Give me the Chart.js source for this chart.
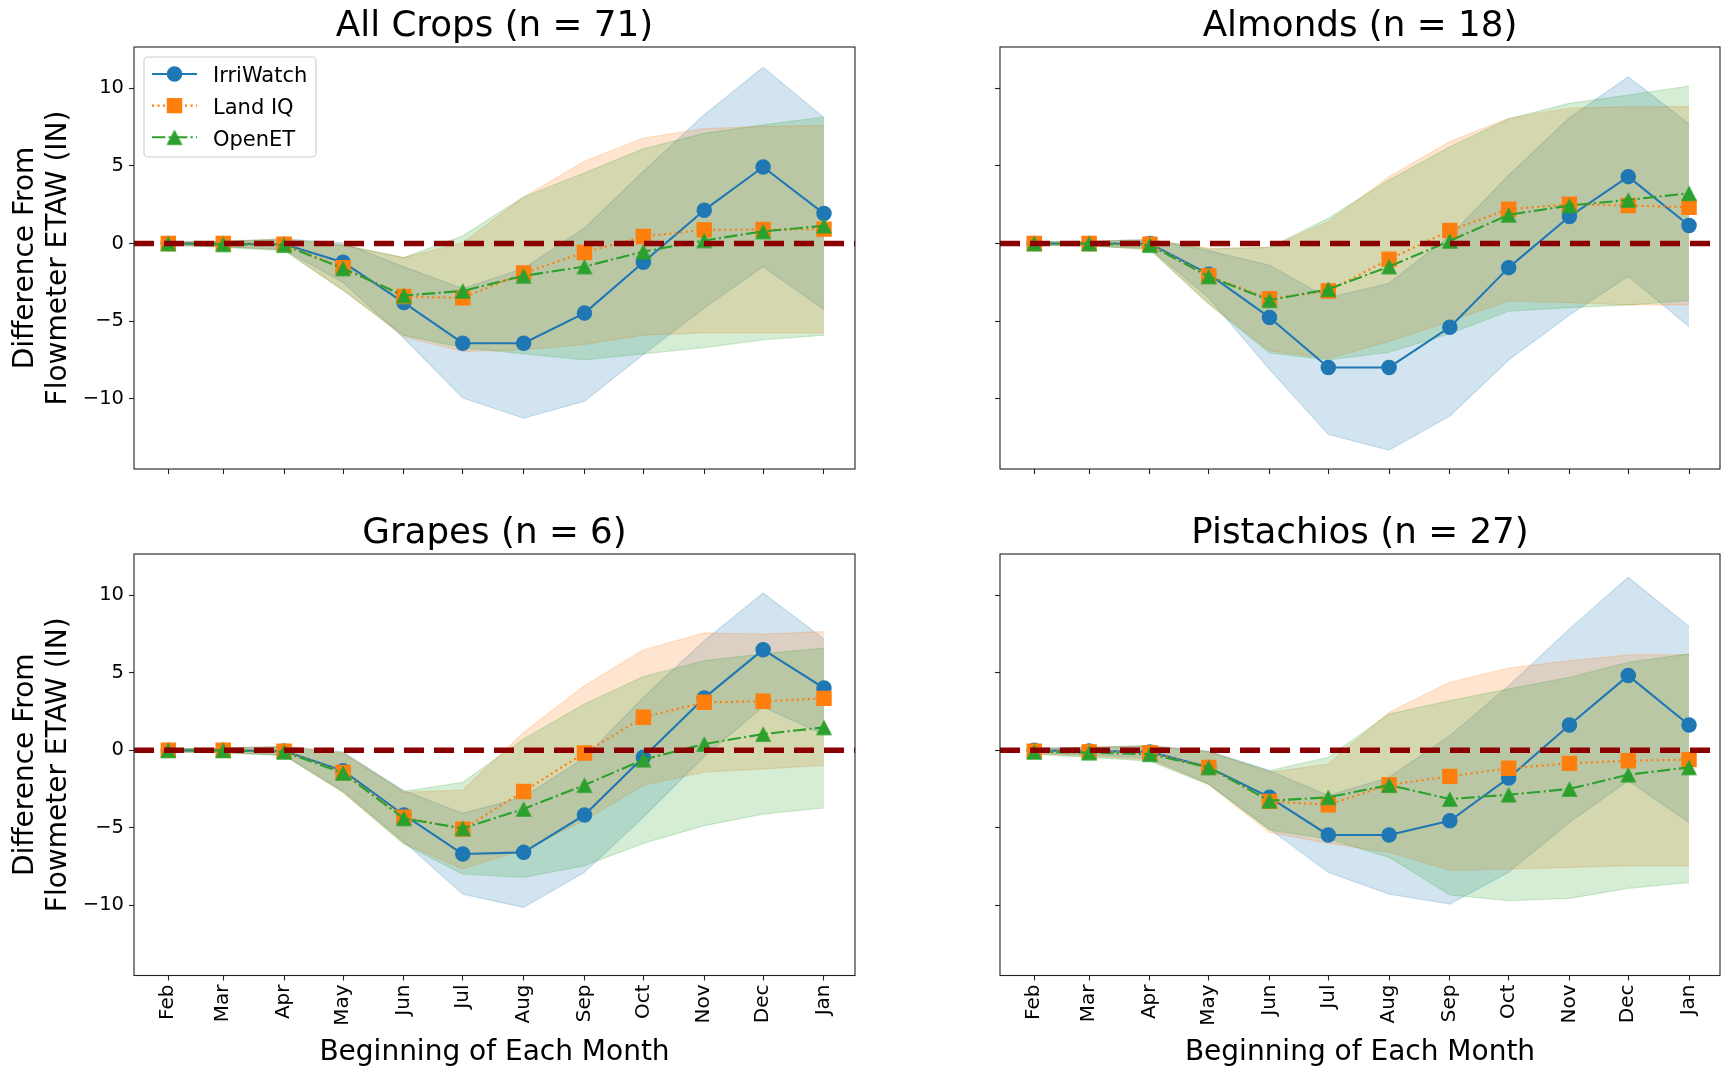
<!DOCTYPE html>
<html><head><meta charset="utf-8">
<script src="https://cdn.jsdelivr.net/npm/chart.js@4.4.0/dist/chart.umd.min.js"></script>
<style>
html,body{margin:0;padding:0;background:#fff;}
#wrap{position:relative;width:1722px;height:1068px;overflow:hidden;background:#fff;}
canvas{position:absolute;}
</style></head><body>
<div id="wrap">
<canvas id="c0" width="867" height="505" style="left:0;top:0"></canvas>
<canvas id="c1" width="872" height="505" style="left:861px;top:0"></canvas>
<canvas id="c2" width="867" height="570" style="left:0;top:505px"></canvas>
<canvas id="c3" width="872" height="570" style="left:861px;top:505px"></canvas>
</div>
<script>
// ---------- categories / ticks ----------
const monthLabels = ['Feb','Mar','Apr','May','Jun','Jul','Aug','Sep','Oct','Nov','Dec','Jan'];
const monthStarts = ['2023-02-01','2023-03-01','2023-04-01','2023-05-01','2023-06-01','2023-07-01',
                     '2023-08-01','2023-09-01','2023-10-01','2023-11-01','2023-12-01','2024-01-01'];
const yTickValues = [-10, -5, 0, 5, 10];
const panelTitles = ['All Crops (n = 71)', 'Almonds (n = 18)', 'Grapes (n = 6)', 'Pistachios (n = 27)'];
const seriesNames = ['IrriWatch', 'Land IQ', 'OpenET'];

// ---------- All Crops ----------
const acIrriMean  = [0, 0, -0.05, -1.2, -3.8, -6.42, -6.42, -4.48, -1.2, 2.15, 4.93, 1.93];
const acIrriUpper = [0.1, 0.15, 0.3, 0.05, -1.5, -2.9, -1.6, 1.0, 4.65, 8.3, 11.35, 8.1];
const acIrriLower = [-0.1, -0.2, -0.4, -2.5, -6.1, -9.95, -11.25, -10.15, -7.15, -4.15, -1.5, -4.25];
const acLandMean  = [0, 0, -0.05, -1.55, -3.41, -3.5, -1.9, -0.57, 0.45, 0.88, 0.9, 0.93];
const acLandUpper = [0.1, 0.15, 0.3, -0.1, -0.9, 0.05, 3.0, 5.3, 6.8, 7.4, 7.55, 7.6];
const acLandLower = [-0.1, -0.2, -0.4, -3.0, -6.0, -6.95, -6.85, -6.5, -5.9, -5.75, -5.75, -5.75];
const acOpenMean  = [0, -0.05, -0.1, -1.6, -3.35, -3.05, -2.08, -1.48, -0.52, 0.2, 0.78, 1.15];
const acOpenUpper = [0.1, 0.15, 0.25, -0.1, -0.9, 0.5, 3.0, 4.55, 6.1, 7.1, 7.65, 8.15];
const acOpenLower = [-0.1, -0.25, -0.45, -3.0, -5.9, -6.7, -7.1, -7.5, -7.1, -6.7, -6.2, -5.9];

// ---------- Almonds ----------
const alIrriMean  = [0, 0, 0, -1.97, -4.76, -7.98, -7.98, -5.39, -1.55, 1.74, 4.31, 1.16];
const alIrriUpper = [0.1, 0.15, 0.25, -0.45, -1.4, -3.5, -2.55, 0.5, 4.4, 8.1, 10.75, 7.7];
const alIrriLower = [-0.1, -0.15, -0.3, -3.5, -8.1, -12.3, -13.3, -11.1, -7.5, -4.6, -2.1, -5.35];
const alLandMean  = [0, 0, -0.05, -2.08, -3.56, -3.05, -1.01, 0.84, 2.21, 2.53, 2.45, 2.34];
const alLandUpper = [0.1, 0.15, 0.25, -0.3, -0.25, 1.42, 4.3, 6.57, 8.07, 8.72, 8.82, 8.82];
const alLandLower = [-0.1, -0.15, -0.35, -3.85, -6.9, -7.4, -6.3, -5.0, -3.7, -3.8, -3.95, -3.95];
const alOpenMean  = [0, 0, -0.1, -2.12, -3.65, -2.94, -1.48, 0.17, 1.85, 2.45, 2.81, 3.24];
const alOpenUpper = [0.1, 0.15, 0.25, -0.35, -0.25, 1.63, 4.1, 6.24, 8.03, 9.03, 9.57, 10.15];
const alOpenLower = [-0.1, -0.15, -0.4, -3.9, -7.05, -7.5, -7.0, -5.8, -4.35, -4.13, -3.95, -3.67];

// ---------- Grapes ----------
const grIrriMean  = [0, 0, -0.05, -1.31, -4.17, -6.69, -6.58, -4.17, -0.45, 3.38, 6.49, 4.02];
const grIrriUpper = [0.1, 0.15, 0.25, -0.1, -2.6, -4.06, -3.0, -0.5, 3.42, 7.07, 10.15, 7.18];
const grIrriLower = [-0.1, -0.15, -0.3, -2.6, -5.9, -9.27, -10.13, -7.87, -4.32, -0.4, 2.8, 1.0];
const grLandMean  = [0, 0, -0.05, -1.42, -4.32, -5.08, -2.65, -0.17, 2.13, 3.1, 3.16, 3.35];
const grLandUpper = [0.1, 0.15, 0.25, -0.15, -2.71, -2.56, 1.15, 4.17, 6.49, 7.57, 7.5, 7.66];
const grLandLower = [-0.1, -0.15, -0.3, -2.7, -6.0, -7.66, -6.4, -4.52, -2.25, -1.4, -1.2, -0.98];
const grOpenMean  = [0, 0, -0.1, -1.46, -4.39, -5.03, -3.78, -2.24, -0.6, 0.41, 1.05, 1.48];
const grOpenUpper = [0.1, 0.15, 0.2, -0.2, -2.65, -2.06, 0.73, 2.99, 4.75, 5.78, 6.22, 6.6];
const grOpenLower = [-0.1, -0.15, -0.35, -2.7, -6.04, -7.98, -8.19, -7.44, -6.0, -4.86, -4.11, -3.72];

// ---------- Pistachios ----------
const piIrriMean  = [0, -0.05, -0.1, -1.1, -3.03, -5.46, -5.46, -4.54, -1.78, 1.63, 4.82, 1.63];
const piIrriUpper = [0.15, 0.2, 0.3, -0.05, -1.31, -2.92, -1.74, 0.95, 4.17, 7.83, 11.16, 7.98];
const piIrriLower = [-0.15, -0.3, -0.5, -2.15, -5.08, -7.87, -9.27, -9.91, -7.87, -4.65, -1.96, -4.65];
const piLandMean  = [-0.05, -0.1, -0.15, -1.1, -3.29, -3.51, -2.22, -1.68, -1.16, -0.84, -0.67, -0.6];
const piLandUpper = [0.1, 0.2, 0.3, -0.1, -1.42, -0.88, 2.45, 4.39, 5.31, 5.78, 6.15, 6.17];
const piLandLower = [-0.2, -0.4, -0.6, -2.2, -5.29, -6.0, -6.58, -7.72, -7.66, -7.55, -7.44, -7.44];
const piOpenMean  = [-0.1, -0.15, -0.25, -1.1, -3.25, -3.03, -2.24, -3.14, -2.86, -2.49, -1.57, -1.1];
const piOpenUpper = [0.1, 0.2, 0.25, -0.1, -1.31, -0.45, 2.34, 3.2, 3.96, 4.71, 5.68, 6.22];
const piOpenLower = [-0.25, -0.45, -0.7, -2.2, -5.14, -5.72, -6.9, -9.33, -9.7, -9.55, -8.9, -8.52];

// ---------- assembly ----------
const panels = [
  { title: panelTitles[0], series: [[acIrriMean, acIrriUpper, acIrriLower], [acLandMean, acLandUpper, acLandLower], [acOpenMean, acOpenUpper, acOpenLower]] },
  { title: panelTitles[1], series: [[alIrriMean, alIrriUpper, alIrriLower], [alLandMean, alLandUpper, alLandLower], [alOpenMean, alOpenUpper, alOpenLower]] },
  { title: panelTitles[2], series: [[grIrriMean, grIrriUpper, grIrriLower], [grLandMean, grLandUpper, grLandLower], [grOpenMean, grOpenUpper, grOpenLower]] },
  { title: panelTitles[3], series: [[piIrriMean, piIrriUpper, piIrriLower], [piLandMean, piLandUpper, piLandLower], [piOpenMean, piOpenUpper, piOpenLower]] }
];

const dayOffsets = monthStarts.map(s => (Date.parse(s) - Date.parse(monthStarts[0])) / 86400000);
const X_MIN = -17.47, X_MAX = 349.8;
const Y_MIN = -14.52, Y_MAX = 12.66;

Chart.defaults.font.family = "'DejaVu Sans', sans-serif";
Chart.defaults.color = '#000';

const lineColors = ['#1f77b4', '#ff7f0e', '#2ca02c'];
const fillColors = ['rgba(31,119,180,0.2)', 'rgba(255,127,14,0.2)', 'rgba(44,160,44,0.2)'];
const dashes = [[], [2.1, 3.4], [13.3, 3.3, 2.1, 3.3]];

function triangleImage(color) {
  const c = document.createElement('canvas');
  c.width = 18; c.height = 18;
  const g = c.getContext('2d');
  g.fillStyle = color;
  g.beginPath();
  g.moveTo(9, 1.2); g.lineTo(1.0, 16.8); g.lineTo(17.0, 16.8); g.closePath();
  g.fill();
  return c;
}
const triImg = triangleImage(lineColors[2]);
const pointStyles = ['circle', 'rect', triImg];
const pointRadii = [7.1, 10, 8];
const pointBorders = [1.3, 1.3, 0];

const toPoints = vals => vals.map((v, i) => ({ x: dayOffsets[i], y: v }));

const framePlugin = {
  id: 'frame',
  afterDatasetsDraw(chart) {
    const { ctx, chartArea: a } = chart;
    ctx.save();
    ctx.strokeStyle = '#222';
    ctx.lineWidth = 1.1;
    ctx.strokeRect(a.left, a.top, a.right - a.left, a.bottom - a.top);
    ctx.restore();
  }
};

const legendPlugin = {
  id: 'mplLegend',
  afterDraw(chart) {
    const { ctx, chartArea: a } = chart;
    const bx = a.left + 10, by = a.top + 10, bw = 172, bh = 100, r = 4;
    ctx.save();
    ctx.beginPath();
    ctx.moveTo(bx + r, by);
    ctx.arcTo(bx + bw, by, bx + bw, by + bh, r);
    ctx.arcTo(bx + bw, by + bh, bx, by + bh, r);
    ctx.arcTo(bx, by + bh, bx, by, r);
    ctx.arcTo(bx, by, bx + bw, by, r);
    ctx.closePath();
    ctx.fillStyle = 'rgba(255,255,255,0.8)';
    ctx.fill();
    ctx.strokeStyle = '#cccccc';
    ctx.lineWidth = 1.1;
    ctx.stroke();
    seriesNames.forEach((name, k) => {
      const cy = by + 17 + k * 31.6;
      ctx.beginPath();
      ctx.setLineDash(dashes[k]);
      ctx.lineCap = 'butt';
      ctx.strokeStyle = lineColors[k];
      ctx.lineWidth = 2.1;
      ctx.moveTo(bx + 8, cy); ctx.lineTo(bx + 53, cy);
      ctx.stroke();
      ctx.setLineDash([]);
      const mx = bx + 30.5;
      ctx.fillStyle = lineColors[k];
      ctx.strokeStyle = lineColors[k];
      ctx.lineWidth = 1.3;
      if (k === 0) {
        ctx.beginPath(); ctx.arc(mx, cy, 7.1, 0, Math.PI * 2); ctx.fill(); ctx.stroke();
      } else if (k === 1) {
        const s = 10 * Math.SQRT1_2;
        ctx.beginPath(); ctx.rect(mx - s, cy - s, 2 * s, 2 * s); ctx.fill(); ctx.stroke();
      } else {
        ctx.drawImage(triImg, mx - 9, cy - 9);
      }
      ctx.fillStyle = '#000';
      ctx.font = "21px 'DejaVu Sans'";
      ctx.textBaseline = 'alphabetic';
      ctx.textAlign = 'left';
      ctx.fillText(name, bx + 69, cy + 8.3);
    });
    ctx.restore();
  }
};

panels.forEach((panel, p) => {
  const isTop = p < 2, isLeft = p % 2 === 0;
  const datasets = [];
  panel.series.forEach((s, k) => {
    const [mean, upper, lower] = s;
    datasets.push({
      label: seriesNames[k] + ' lower', data: toPoints(lower),
      borderColor: fillColors[k], borderWidth: 1.2, pointRadius: 0, fill: false,
      tension: 0, order: 30 - 10 * k
    });
    datasets.push({
      label: seriesNames[k] + ' upper', data: toPoints(upper),
      borderColor: fillColors[k], borderWidth: 1.2, pointRadius: 0, fill: '-1',
      backgroundColor: fillColors[k], tension: 0, order: 30 - 10 * k
    });
  });
  panel.series.forEach((s, k) => {
    datasets.push({
      label: seriesNames[k], data: toPoints(s[0]),
      borderColor: lineColors[k], backgroundColor: lineColors[k],
      borderWidth: 2.1, borderDash: dashes[k], borderCapStyle: 'butt', borderJoinStyle: 'round',
      pointStyle: pointStyles[k], pointRadius: pointRadii[k], pointBorderWidth: pointBorders[k],
      pointBackgroundColor: lineColors[k], pointBorderColor: lineColors[k],
      fill: false, tension: 0, order: 3 - k
    });
  });
  datasets.push({
    label: 'zero', data: [{ x: X_MIN, y: 0 }, { x: X_MAX, y: 0 }],
    borderColor: '#8b0000', borderWidth: 5.5, borderDash: [20, 10], borderCapStyle: 'butt',
    pointRadius: 0, fill: false, order: 0
  });

  const tickGrid = { display: true, drawOnChartArea: false, drawTicks: true, tickLength: 5, tickWidth: 1.1, tickColor: '#222', color: '#222' };
  const canvasH = isTop ? 505 : 570;

  new Chart(document.getElementById('c' + p), {
    type: 'line',
    data: { datasets },
    plugins: p === 0 ? [framePlugin, legendPlugin] : [framePlugin],
    options: {
      responsive: false, animation: false, devicePixelRatio: 1, events: [],
      layout: { padding: { left: 0, right: isLeft ? 12 : 13, top: 0, bottom: 0 } },
      plugins: { legend: { display: false }, tooltip: { enabled: false }, title: { display: false } },
      scales: {
        x: {
          type: 'linear', position: 'bottom', min: X_MIN, max: X_MAX,
          afterBuildTicks: sc => { sc.ticks = dayOffsets.map(v => ({ value: v })); },
          afterFit: sc => { sc.height = isTop ? 36 : canvasH - 470.5; },
          ticks: {
            display: !isTop, autoSkip: false, minRotation: 90, maxRotation: 90, padding: 4,
            font: { size: 20 }, color: '#000',
            callback: v => monthLabels[dayOffsets.indexOf(v)]
          },
          grid: tickGrid, border: { display: false },
          title: { display: !isTop, text: 'Beginning of Each Month', color: '#000',
                   font: { size: 28, lineHeight: 1.2 }, padding: { top: 0, bottom: 5.9 } }
        },
        xTitle: {
          type: 'linear', axis: 'x', position: 'top', min: 0, max: 1, display: true,
          afterFit: sc => { sc.height = isTop ? 47 : 49; },
          ticks: { display: false }, grid: { display: false, drawTicks: false }, border: { display: false },
          title: { display: true, text: panel.title, color: '#000',
                   font: { size: 35.7, lineHeight: 1.2 }, padding: { top: isTop ? 5.3 : 7.3, bottom: 0 } }
        },
        y: {
          type: 'linear', position: 'left', min: Y_MIN, max: Y_MAX,
          afterBuildTicks: sc => { sc.ticks = yTickValues.map(v => ({ value: v })); },
          afterFit: sc => { sc.width = isLeft ? 134 : 139; },
          ticks: {
            display: isLeft, padding: 5, font: { size: 19.5 }, color: '#000',
            callback: v => (v < 0 ? '\u2212' + Math.abs(v) : String(v))
          },
          grid: tickGrid, border: { display: false },
          title: { display: isLeft, text: ['Difference From', 'Flowmeter ETAW (IN)'], color: '#000',
                   font: { size: 28, lineHeight: 1.18 }, padding: { top: 8.8, bottom: 0 } }
        }
      }
    }
  });
});
</script>
</body></html>
